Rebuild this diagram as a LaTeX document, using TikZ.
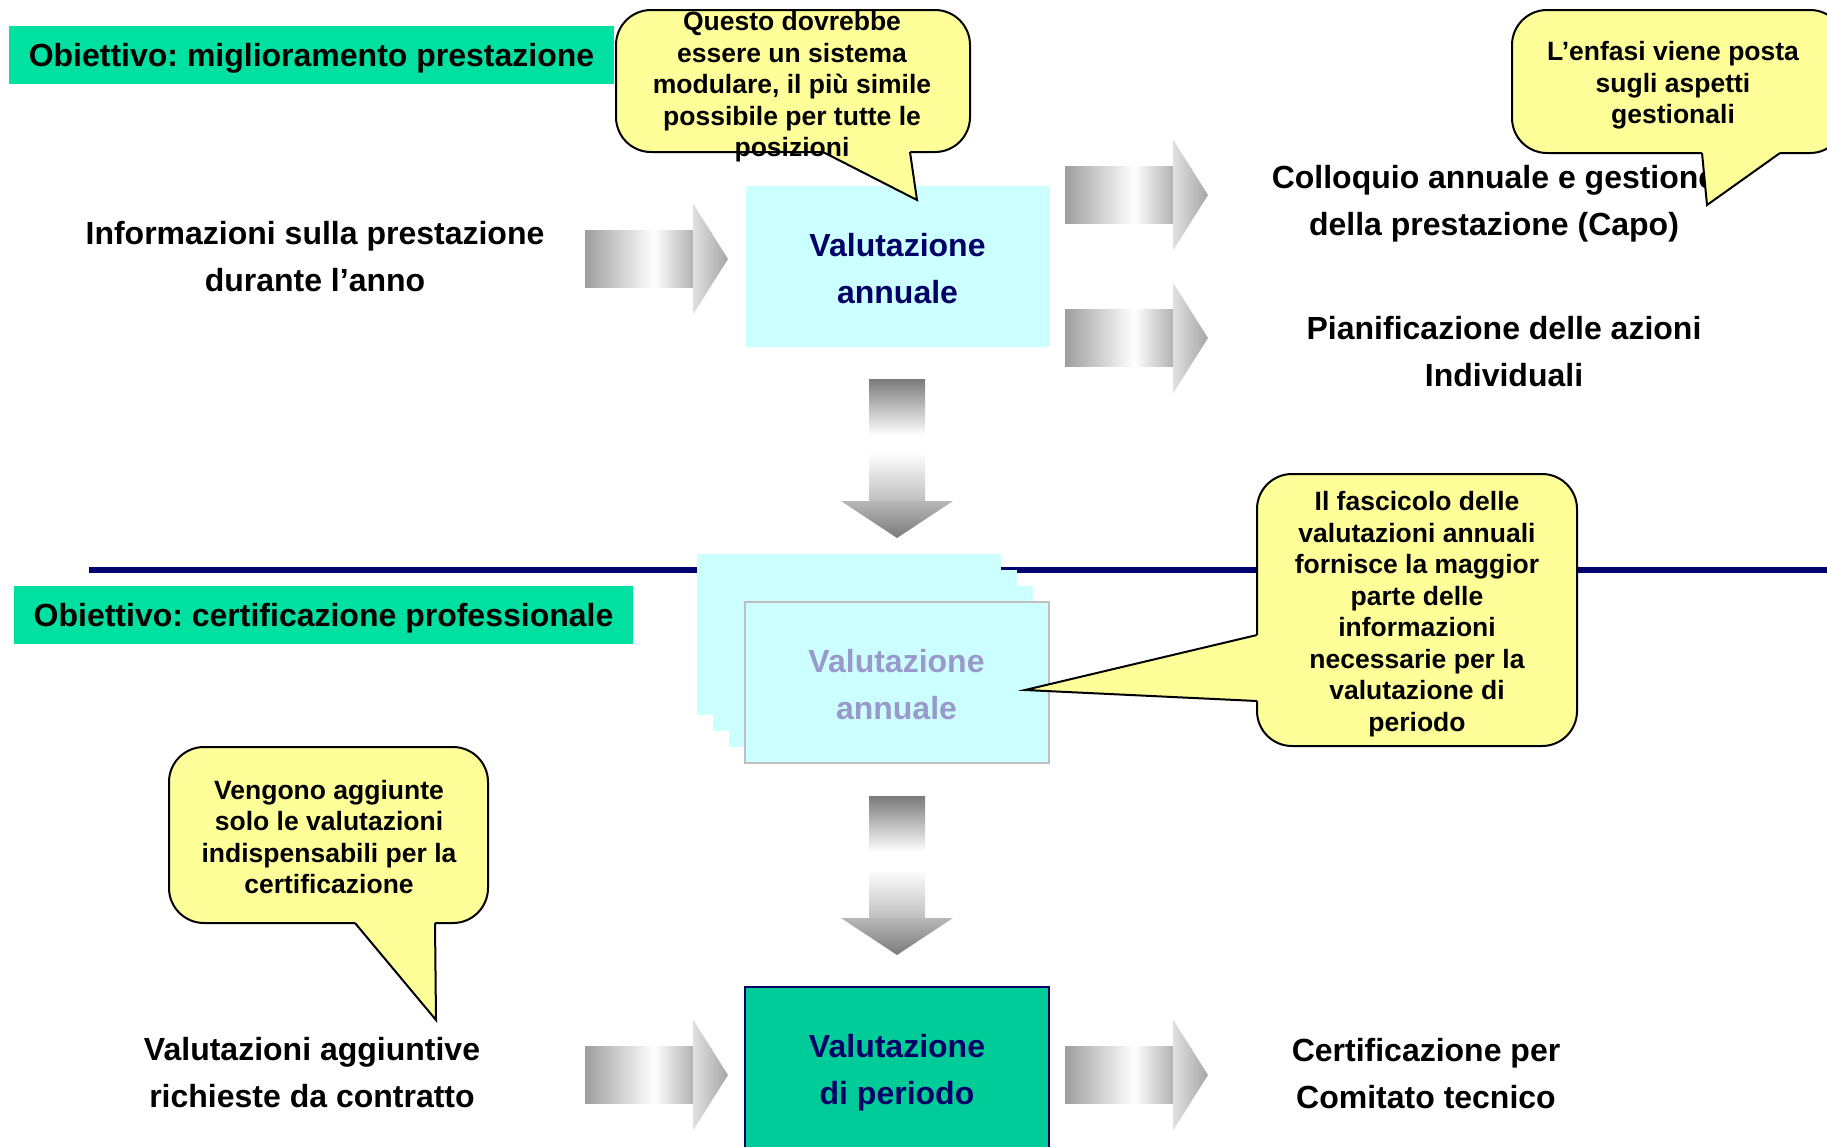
\documentclass[tikz,border=0pt]{standalone}
\usepackage{fontspec}
\setmainfont{Liberation Sans}
\frenchspacing

\definecolor{boxcyan}{HTML}{CCFFFF}
\definecolor{textnavy}{HTML}{000066}
\definecolor{ghostblue}{HTML}{9999CC}
\definecolor{goalgreen}{RGB}{0,224,160}
\definecolor{periodgreen}{RGB}{0,204,153}
\definecolor{noteyellow}{HTML}{FFFF99}
\definecolor{linenavy}{HTML}{000070}

\pgfdeclarehorizontalshading{hshaft}{100bp}{color(0bp)=(black!38); color(25bp)=(black!38); color(57bp)=(white); color(75bp)=(black!30); color(100bp)=(black!30)}
\pgfdeclarehorizontalshading{hhead}{100bp}{color(0bp)=(black!12); color(25bp)=(black!12); color(75bp)=(black!35); color(100bp)=(black!35)}
\pgfdeclareverticalshading{vshaft}{100bp}{color(0bp)=(black!25); color(25bp)=(black!25); color(45bp)=(white); color(52bp)=(white); color(75bp)=(black!52); color(100bp)=(black!52)}
\pgfdeclareverticalshading{vhead}{100bp}{color(0bp)=(black!52); color(25bp)=(black!52); color(75bp)=(black!28); color(100bp)=(black!28)}

\begin{document}
\begin{tikzpicture}[x=1pt,y=-1pt,
  txt/.style={inner sep=0pt,align=center,font=\fontsize{32}{47}\selectfont\bfseries},
  notetxt/.style={inner sep=0pt,align=center,font=\fontsize{26.5}{31.5}\selectfont\bfseries},
  goal/.style={fill=goalgreen,minimum height=58pt,inner sep=0pt,text depth=0pt,font=\fontsize{32}{38}\selectfont\bfseries},
  evalbox/.style={fill=boxcyan,minimum width=304pt,minimum height=161pt,inner sep=0pt,align=center,font=\fontsize{32}{47}\selectfont\bfseries},
  note/.style={fill=noteyellow,draw=black,line width=2pt,rounded corners=35pt},
  notetail/.style={draw=black,line width=2pt,line join=miter},
  pics/harrow/.style={code={
    \shade[shading=hshaft] (0,-28.5) rectangle (108,28.5);
    \shade[shading=hhead] (108,-55.5) -- (143,0) -- (108,55.5) -- cycle;
  }},
  pics/varrow/.style={code={
    \shade[shading=vshaft] (-28,0) rectangle (28,122);
    \shade[shading=vhead] (-56,122) -- (56,122) -- (0,159) -- cycle;
  }}]
\useasboundingbox (0,0) rectangle (1827,1146);

% goals
\node[goal,minimum width=605pt] (goalA) at (311.5,55) {Obiettivo: miglioramento prestazione};
\node[goal,minimum width=619pt] (goalB) at (323.5,615) {Obiettivo: certificazione professionale};

\draw[linenavy,line width=6pt] (89,570) -- (1827,570);

% evaluation boxes
\node[evalbox,text=textnavy] (annual) at (897.5,266) {\rule{0pt}{28pt}Valutazione\\annuale};
\node[evalbox] (sheetA) at (848.5,634.5) {};
\node[evalbox] (sheetB) at (865,650.5) {};
\node[evalbox] (sheetC) at (881,666.5) {};
\node[evalbox,draw=black!25,line width=2pt,text=ghostblue] (stack) at (896.5,682.5) {\rule{0pt}{27.5pt}Valutazione\\annuale};
\node[evalbox,fill=periodgreen,draw=textnavy,line width=2pt,text=textnavy,minimum height=163pt] (period) at (897,1068) {\rule{0pt}{33pt}Valutazione\\di periodo};

% texts
\node[txt] (infoIn) at (315,256.5) {Informazioni sulla prestazione\\durante l’anno};
\node[txt] (talk) at (1494,204) {Colloquio annuale e gestione\\della prestazione (Capo)};
\node[txt] (plan) at (1504,352) {Pianificazione delle azioni\\Individuali};
\node[txt] (extra) at (312,1073) {Valutazioni aggiuntive\\richieste da contratto};
\node[txt] (cert) at (1426,1073.5) {Certificazione per\\Comitato tecnico};

% block arrows
\coordinate (inTop) at (585,259);
\coordinate (outTalk) at (1065,195);
\coordinate (outPlan) at (1065,338);
\coordinate (downA) at (897,379);
\coordinate (downB) at (897,796);
\coordinate (inBot) at (585,1075);
\coordinate (outBot) at (1065,1075);
\pic at (inTop) {harrow};
\pic at (outTalk) {harrow};
\pic at (outPlan) {harrow};
\pic at (downA) {varrow};
\pic at (downB) {varrow};
\pic at (inBot) {harrow};
\pic at (outBot) {harrow};

% callouts
\draw[note] (616,10) rectangle (970,152);
\fill[noteyellow] (823,152) -- (917,200) -- (910,152) -- (910,140) -- (823,140) -- cycle;
\draw[notetail] (823,152) -- (917,200) -- (910,152);
\node[notetxt] (noteModule) at (792,87) {Questo dovrebbe\\essere un sistema\\modulare, il più simile\\possibile per tutte le\\posizioni};

\draw[note] (1512,10) rectangle (1845,153);
\fill[noteyellow] (1702,153) -- (1707,205) -- (1780,153) -- (1780,141) -- (1702,141) -- cycle;
\draw[notetail] (1702,153) -- (1707,205) -- (1780,153);
\node[notetxt] (noteFocus) at (1673,85.5) {L’enfasi viene posta\\sugli aspetti\\gestionali};

\draw[note] (1257,474) rectangle (1577,746);
\fill[noteyellow] (1257,635) -- (1025,690) -- (1257,701) -- (1269,701) -- (1269,635) -- cycle;
\draw[notetail] (1257,635) -- (1025,690) -- (1257,701);
\node[notetxt] (noteFile) at (1417,614) {Il fascicolo delle\\valutazioni annuali\\fornisce la maggior\\parte delle\\informazioni\\necessarie per la\\valutazione di\\periodo};

\draw[note] (169,747) rectangle (488,923);
\fill[noteyellow] (355,923) -- (436,1020) -- (435,923) -- (435,911) -- (355,911) -- cycle;
\draw[notetail] (355,923) -- (436,1020) -- (435,923);
\node[notetxt] (noteExtra) at (329,837) {Vengono aggiunte\\solo le valutazioni\\indispensabili per la\\certificazione};
\end{tikzpicture}
\end{document}
